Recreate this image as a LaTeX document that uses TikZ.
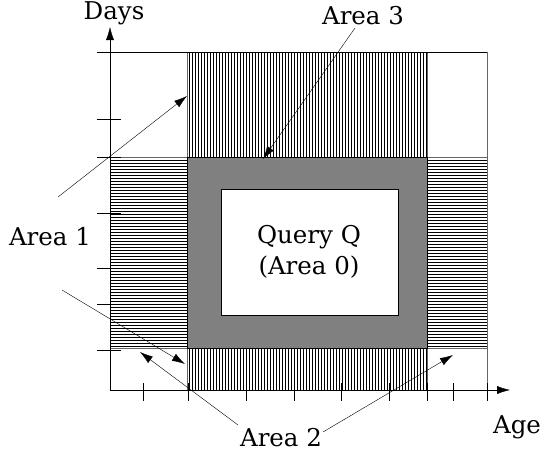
\documentclass[tikz,border=0pt]{standalone}
\usepackage{fontspec}
\setmainfont{DejaVu Serif}
\usetikzlibrary{arrows.meta,patterns}

\begin{document}
\begin{tikzpicture}[x=1pt,y=-1pt,
    lbl/.style={font=\fontsize{24.5}{31}\selectfont,inner sep=0pt,align=center},
    vhatch/.style={pattern=vertical lines,draw=black!60},
    hhatch/.style={pattern=horizontal lines,draw=black!60},
    axis/.style={-{Latex[length=13pt,width=8pt]}},
    pointer/.style={-{Latex[length=13pt,width=8pt]}}]
\useasboundingbox (0,0) rectangle (540,461);
% hatched areas 1, 2 and 3
\path[vhatch] (187,52) rectangle (427,157);
\path[vhatch] (187,348) rectangle (427,390);
\path[hhatch] (110,157) rectangle (187,348);
\path[hhatch] (427,157) rectangle (487,348);
% query and its ring
\filldraw[fill=black!50,draw=black] (187,157) rectangle (427,348);
\filldraw[fill=white,draw=black] (221,189) rectangle (398,315);
\draw[black!60] (487,52) -- (487,390);
\draw (97,52) -- (487,52);
% axes
\coordinate (o) at (110,390);
\coordinate (ytip) at (110,27);
\coordinate (xtip) at (510,390);
\draw[axis] (o) -- (ytip);
\draw[axis] (o) -- (xtip);
\foreach \x in {143,188,246,294,341,389,427,453,487}
    \draw (\x,383) -- (\x,401);
\foreach \y in {119,157,213,268,304,350}
    \draw (97,\y) -- (121,\y);
% labels
\node[lbl] (days) at (114,13) {Days};
\node[lbl] (age) at (517,427) {Age};
\node[lbl] (query) at (309,252) {Query Q\\(Area 0)};
\node[lbl] (area1) at (50,237) {Area 1};
\node[lbl] (area2) at (281,438) {Area 2};
\node[lbl] (area3) at (363,16) {Area 3};
% pointers
\coordinate (p1s) at (58,197);  \coordinate (p1e) at (187,96);
\coordinate (p2s) at (62,290);  \coordinate (p2e) at (185,364);
\coordinate (p3s) at (238,425); \coordinate (p3e) at (140,352);
\coordinate (p4s) at (323,432); \coordinate (p4e) at (453,355);
\coordinate (p5s) at (355,28);  \coordinate (p5e) at (263,159);
\draw[pointer] (p1s) -- (p1e);
\draw[pointer] (p2s) -- (p2e);
\draw[pointer] (p3s) -- (p3e);
\draw[pointer] (p4s) -- (p4e);
\draw[pointer] (p5s) -- (p5e);
\end{tikzpicture}
\end{document}
